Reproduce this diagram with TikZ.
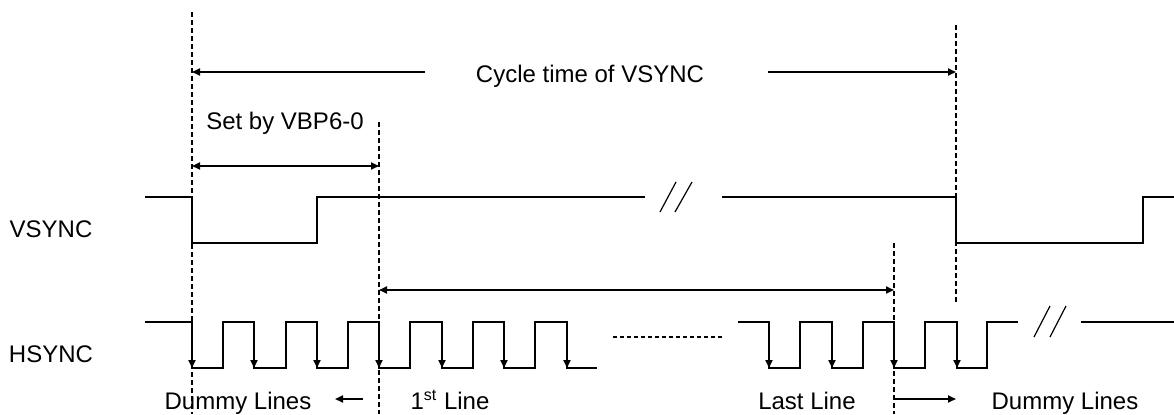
\documentclass[tikz,border=0pt]{standalone}
\usepackage{fontspec}
\setmainfont{Liberation Sans}
\usetikzlibrary{arrows.meta}
\tikzset{
  sig/.style={draw,line width=0.9pt},
  guide/.style={draw,line width=0.8pt,dash pattern=on 2.5pt off 1.5pt},
  tip/.style={draw,line width=0.9pt,-{Triangle[length=4pt,width=3.5pt]}},
  dim/.style={draw,line width=0.9pt,{Triangle[length=4pt,width=3.5pt]}-{Triangle[length=4pt,width=3.5pt]}},
  brk/.style={draw,line width=0.6pt},
  lbl/.style={font=\fontsize{12}{14}\selectfont,anchor=base,inner sep=0pt}
}
\begin{document}
\begin{tikzpicture}[x=0.5pt,y=-0.5pt]
\useasboundingbox (0,0) rectangle (1174,414);
% guide lines
\coordinate (t1) at (192,12);
\coordinate (b1) at (192,414);
\coordinate (t2) at (379,122);
\coordinate (b2) at (379,414);
\coordinate (t3) at (894,243);
\coordinate (b3) at (894,414);
\coordinate (t4) at (956,25);
\coordinate (b4) at (956,305);
\path[guide] (t1) -- (b1);
\path[guide] (t2) -- (b2);
\path[guide] (t3) -- (b3);
\path[guide] (t4) -- (b4);

% labels
\node[lbl] (vsync) at (51,237) {VSYNC};
\node[lbl] (hsync) at (51,362) {HSYNC};
\node[lbl] (cycle) at (590,82) {Cycle time of VSYNC};
\node[lbl] (vbp) at (285,129) {Set by VBP6-0};
\node[lbl] (dummyl) at (238,409) {Dummy Lines};
\node[lbl] (first) at (450,409) {1\textsuperscript{st} Line};
\node[lbl] (last) at (807,409) {Last Line};
\node[lbl] (dummyr) at (1065,409) {Dummy Lines};

% dimension arrows
\coordinate (c1) at (425,72);
\coordinate (c2) at (768,72);
\path[tip] (c1) -- (t1 |- c1);
\path[tip] (c2) -- (t4 |- c2);
\coordinate (v1) at (192,166);
\coordinate (v2) at (379,166);
\path[dim] (v1) -- (v2);
\coordinate (m1) at (379,290);
\coordinate (m2) at (894,290);
\path[dim] (m1) -- (m2);
\coordinate (d1) at (363,399);
\coordinate (d2) at (335,399);
\path[draw,line width=0.9pt,-{Triangle[length=4pt,width=3.5pt]}] (d1) -- (d2);
\coordinate (d3) at (894,399);
\coordinate (d4) at (956,399);
\path[draw,line width=0.9pt,-{Triangle[length=4pt,width=3.5pt]}] (d3) -- (d4);

% VSYNC
\path[sig] (145,197) -- (192,197) -- (192,243) -- (317,243) -- (317,197) -- (645,197);
\path[sig] (722,197) -- (956,197) -- (956,243) -- (1143,243) -- (1143,197) -- (1174,197);
\path[brk] (660,212) -- (676,182);
\path[brk] (675,212) -- (692,182);

% HSYNC
\path[sig] (145,322) -- (192,322) -- (192,368) -- (223,368) -- (223,322) -- (254,322)
  -- (254,368) -- (286,368) -- (286,322) -- (317,322) -- (317,368) -- (348,368)
  -- (348,322) -- (379,322) -- (379,368) -- (410,368) -- (410,322) -- (442,322)
  -- (442,368) -- (473,368) -- (473,322) -- (504,322) -- (504,368) -- (535,368)
  -- (535,322) -- (567,322) -- (567,368) -- (597,368);
\path[draw,line width=0.6pt,dash pattern=on 2pt off 1.5pt] (613,337) -- (722,337);
\path[sig] (738,322) -- (769,322) -- (769,368) -- (800,368) -- (800,322) -- (832,322)
  -- (832,368) -- (863,368) -- (863,322) -- (894,322) -- (894,368) -- (925,368)
  -- (925,322) -- (957,322) -- (957,368) -- (987,368) -- (987,322) -- (1018,322);
\path[sig] (1081,322) -- (1174,322);
\path[brk] (1034,337) -- (1050,306);
\path[brk] (1050,337) -- (1066,306);

% falling edges
\path[tip] (192,322) -- (192,368);
\path[tip] (254,322) -- (254,368);
\path[tip] (317,322) -- (317,368);
\path[tip] (379,322) -- (379,368);
\path[tip] (442,322) -- (442,368);
\path[tip] (504,322) -- (504,368);
\path[tip] (567,322) -- (567,368);
\path[tip] (769,322) -- (769,368);
\path[tip] (832,322) -- (832,368);
\path[tip] (894,322) -- (894,368);
\path[tip] (957,322) -- (957,368);
\end{tikzpicture}
\end{document}
